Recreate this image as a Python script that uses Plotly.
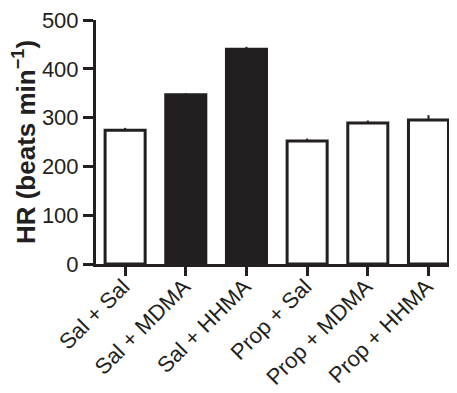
import plotly.graph_objects as go

categories = ["Sal + Sal", "Sal + MDMA", "Sal + HHMA", "Prop + Sal", "Prop + MDMA", "Prop + HHMA"]
hr_mean = [274, 347, 440, 252, 289, 295]
hr_sem = [5, 3, 5, 5, 5, 10]
fill_colors = ["white", "#231f20", "#231f20", "white", "white", "white"]

ink = "#231f20"
# page body has an 8px default margin; shift the plot to compensate
off = 8
fig = go.Figure()
fig.add_trace(go.Bar(
    x=list(range(len(categories))), y=hr_mean,
    width=0.66,
    marker=dict(color=fill_colors, line=dict(color=ink, width=3)),
    error_y=dict(type="data", array=hr_sem, arrayminus=[0]*len(hr_sem), symmetric=False,
                 color=ink, thickness=2, width=0),
))
fig.update_layout(
    width=457, height=393,
    margin=dict(l=96 - off, r=off, t=20 - off, b=129 + off, autoexpand=False),
    paper_bgcolor="white", plot_bgcolor="white",
    showlegend=False,
    font=dict(family="Liberation Sans, Arial, sans-serif", color=ink),
    xaxis=dict(
        tickmode="array", tickvals=list(range(len(categories))), ticktext=categories,
        range=[-0.48, 5.47], tickangle=-45,
        showline=True, linecolor=ink, linewidth=3,
        ticks="outside", ticklen=9, tickwidth=3, tickcolor=ink,
        tickfont=dict(size=22, color=ink), showgrid=False, zeroline=False,
        ticklabelstandoff=-11, ticklabelshift=-2, ticklabeloverflow="allow",
    ),
    yaxis=dict(
        range=[0, 500], tickvals=[0, 100, 200, 300, 400, 500],
        showline=True, linecolor=ink, linewidth=3,
        ticks="outside", ticklen=10, tickwidth=3, tickcolor=ink,
        tickfont=dict(size=22, color=ink), showgrid=False, zeroline=False,
        ticklabeloverflow="allow",
        title=dict(text="<b>HR (beats min<sup>−1</sup>)</b>", font=dict(size=26, color=ink), standoff=3),
    ),
)
fig.write_html("out.html")
